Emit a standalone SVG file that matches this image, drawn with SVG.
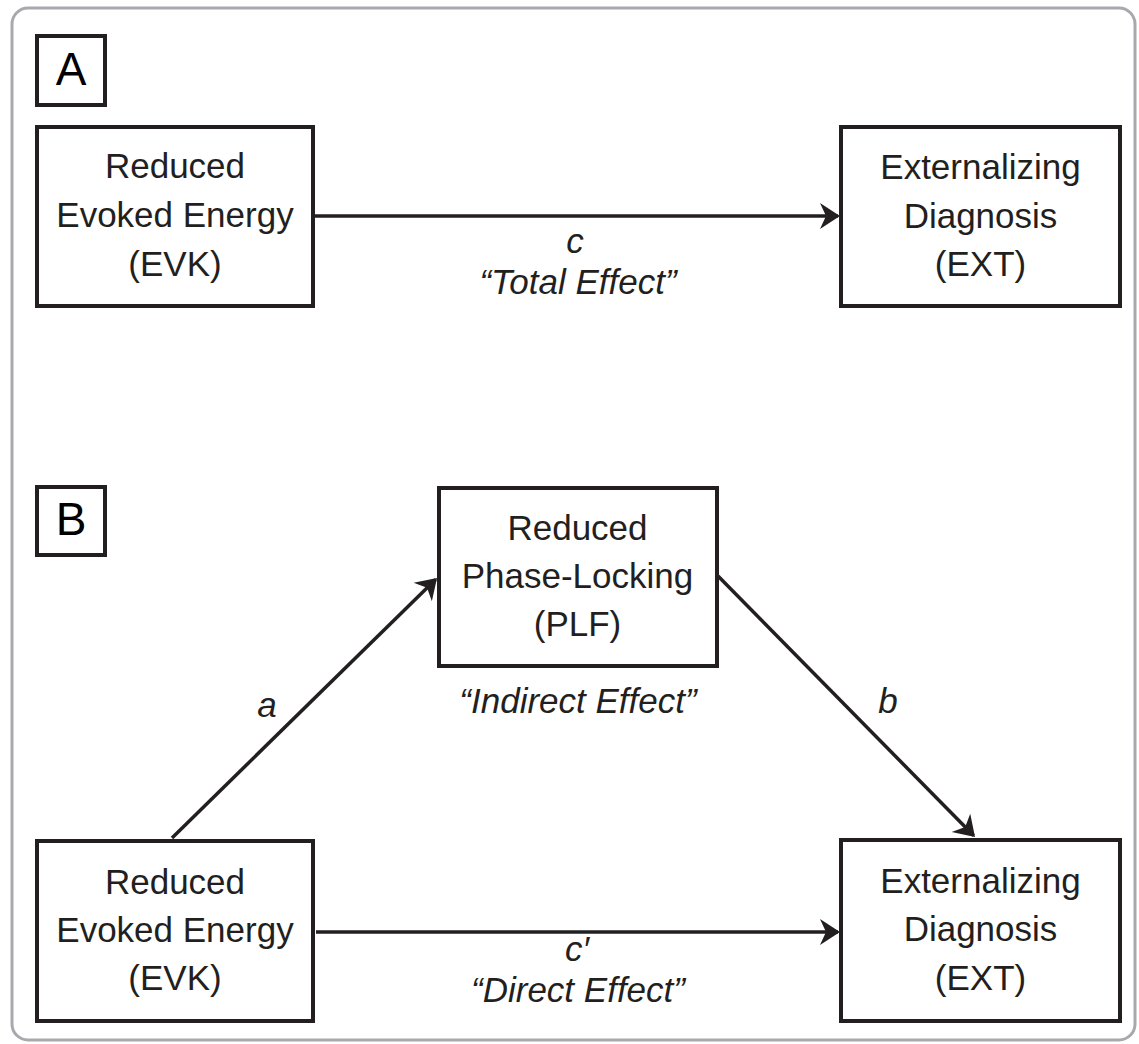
<svg xmlns="http://www.w3.org/2000/svg" width="1139" height="1044" viewBox="0 0 1139 1044">
  <style>
    .box { fill: #ffffff; stroke: #231f20; stroke-width: 4; }
    .t { font-family: "Liberation Sans", Arial, sans-serif; font-size: 35px; fill: #231f20; text-anchor: middle; }
    .lbl { font-family: "Liberation Sans", Arial, sans-serif; font-size: 46px; fill: #000000; text-anchor: middle; }
    .it { font-family: "Liberation Sans", Arial, sans-serif; font-size: 35px; font-style: italic; fill: #231f20; text-anchor: middle; }
    .conn { stroke: #231f20; stroke-width: 3.5; fill: none; marker-end: url(#arrow); }
  </style>
  <defs>
    <marker id="arrow" markerUnits="userSpaceOnUse" markerWidth="21" markerHeight="28" viewBox="0 0 21 28" refX="18" refY="14" orient="auto">
      <path d="M0,1 L20,14 L0,27 L6,14 Z" fill="#231f20"/>
    </marker>
  </defs>
  <rect x="0" y="0" width="1139" height="1044" fill="#ffffff"/>
  <rect id="frame" x="12" y="8" width="1123" height="1032" rx="16" ry="16" fill="none" stroke="#a7a9ac" stroke-width="3"/>

  <g id="panel-label-A">
    <rect class="box" x="37" y="36" width="68" height="69"/>
    <text class="lbl" x="71" y="85">A</text>
  </g>
  <g id="panel-label-B">
    <rect class="box" x="37" y="487" width="68" height="68"/>
    <text class="lbl" x="71" y="535">B</text>
  </g>

  <g id="connectors">
    <line class="conn" x1="315" y1="216" x2="838" y2="216"/>
    <line class="conn" x1="172" y1="838" x2="435.6" y2="579.4"/>
    <line class="conn" x1="718" y1="576" x2="973.6" y2="835.6"/>
    <line class="conn" x1="316" y1="932" x2="838" y2="932"/>
  </g>

  <g id="edge-labels">
    <text class="it" x="575" y="253">c</text>
    <text class="it" x="578" y="294">“Total Effect”</text>
    <text class="it" x="267" y="717">a</text>
    <text class="it" x="888" y="713">b</text>
    <text class="it" x="578" y="713">“Indirect Effect”</text>
    <text class="it" x="577" y="961">c′</text>
    <text class="it" x="578" y="1002">“Direct Effect”</text>
  </g>

  <g id="node-A-EVK">
    <rect class="box" x="37" y="127" width="276" height="179"/>
    <text class="t" x="175" y="178">Reduced</text>
    <text class="t" x="175" y="227">Evoked Energy</text>
    <text class="t" x="175" y="276">(EVK)</text>
  </g>
  <g id="node-A-EXT">
    <rect class="box" x="841" y="127" width="279" height="179"/>
    <text class="t" x="980.5" y="179">Externalizing</text>
    <text class="t" x="980.5" y="228">Diagnosis</text>
    <text class="t" x="980.5" y="276">(EXT)</text>
  </g>
  <g id="node-B-PLF">
    <rect class="box" x="439" y="488" width="278" height="178"/>
    <text class="t" x="577.5" y="540">Reduced</text>
    <text class="t" x="577.5" y="588">Phase-Locking</text>
    <text class="t" x="577.5" y="636">(PLF)</text>
  </g>
  <g id="node-B-EVK">
    <rect class="box" x="37" y="841" width="276" height="180"/>
    <text class="t" x="175" y="894">Reduced</text>
    <text class="t" x="175" y="942">Evoked Energy</text>
    <text class="t" x="175" y="990">(EVK)</text>
  </g>
  <g id="node-B-EXT">
    <rect class="box" x="841" y="840" width="279" height="181"/>
    <text class="t" x="980.5" y="893">Externalizing</text>
    <text class="t" x="980.5" y="941">Diagnosis</text>
    <text class="t" x="980.5" y="990">(EXT)</text>
  </g>
</svg>
